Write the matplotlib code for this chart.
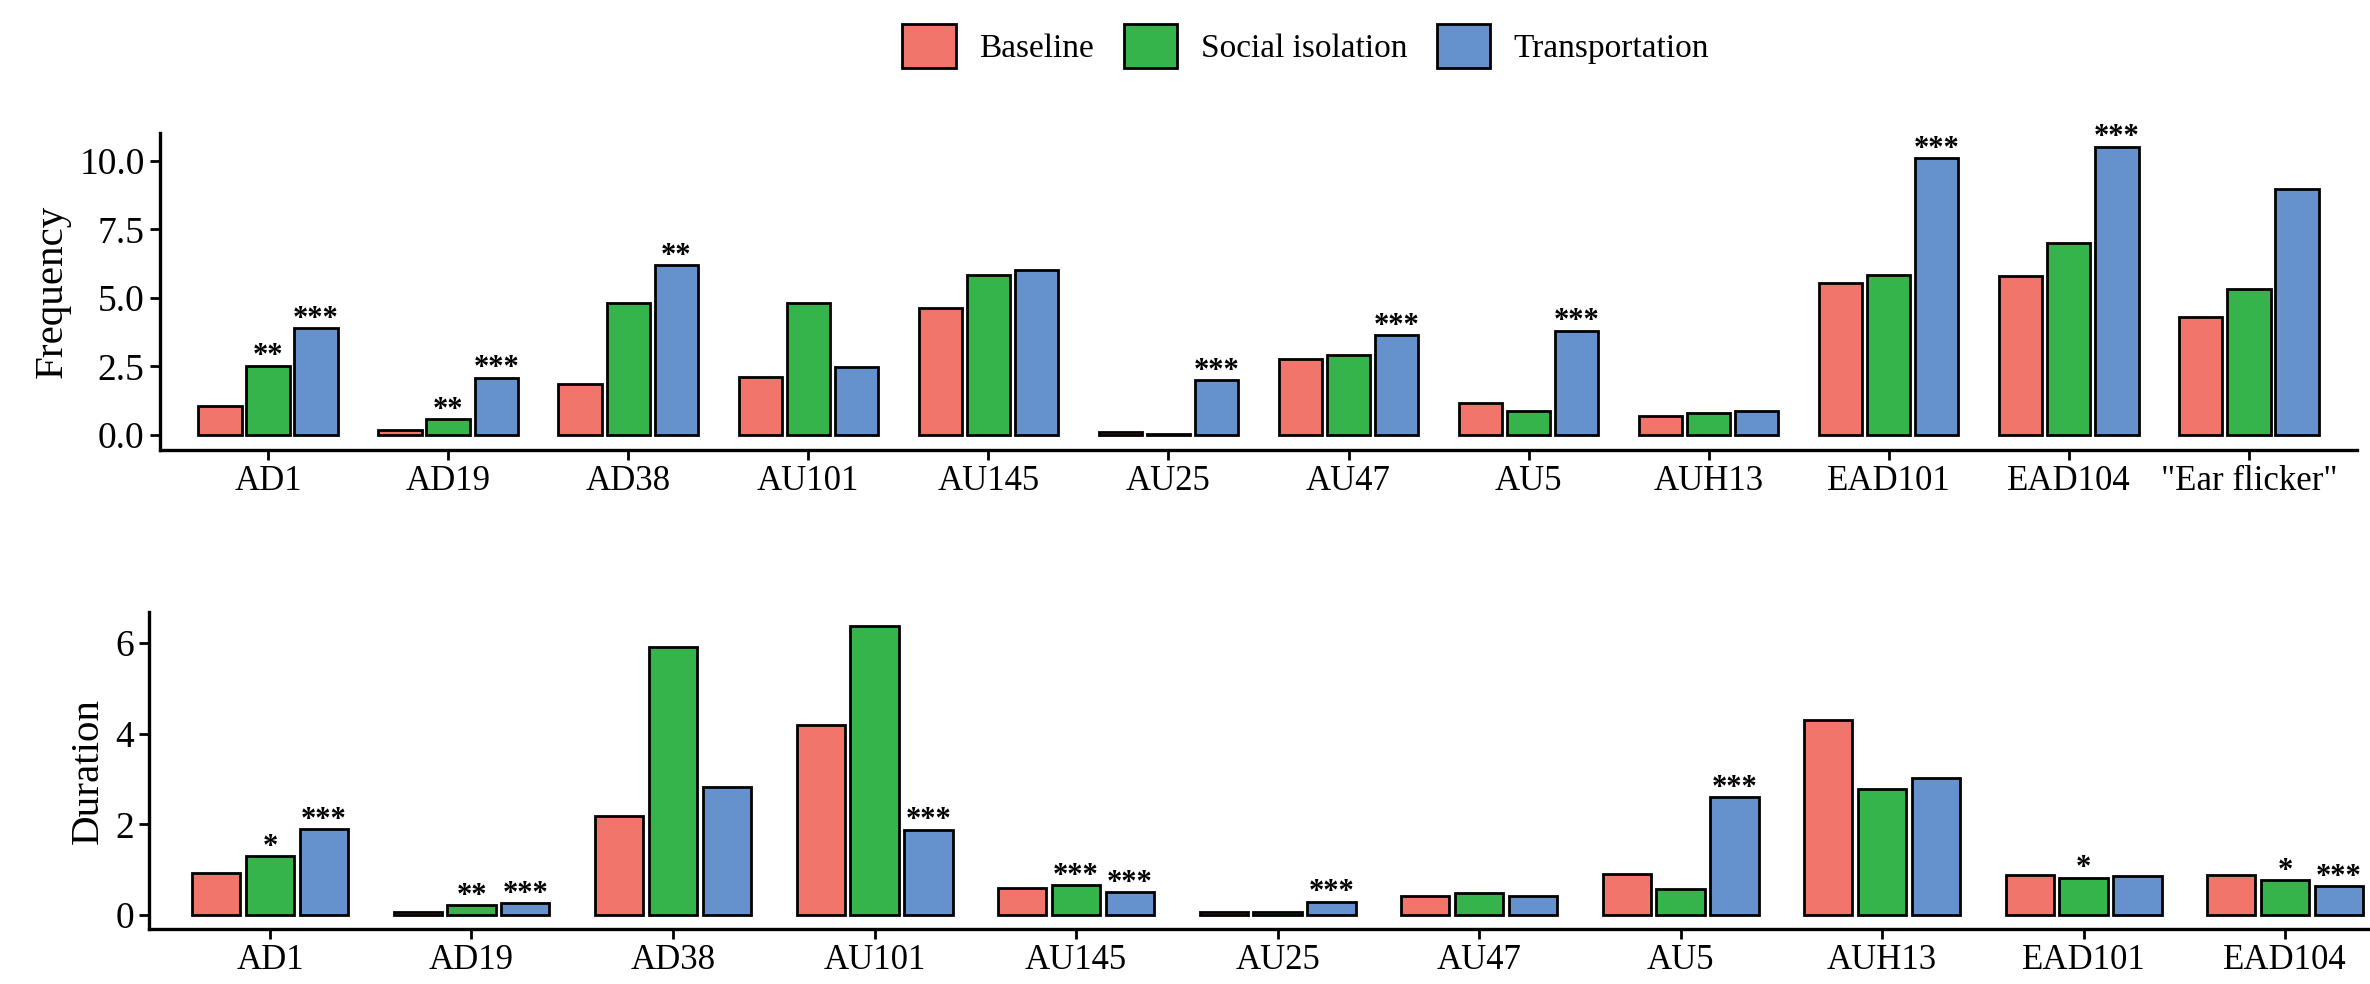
import numpy as np
import matplotlib
matplotlib.use("Agg")
import matplotlib.pyplot as plt
from matplotlib.patches import Patch

plt.rcParams['font.family'] = ['Liberation Serif', 'DejaVu Serif']

groups = ["Baseline", "Social isolation", "Transportation"]
colors = ["#F2756C", "#34B44A", "#6592CD"]

# frequency panel
freq_cats = ["AD1", "AD19", "AD38", "AU101", "AU145", "AU25", "AU47", "AU5",
             "AUH13", "EAD101", "EAD104", '"Ear flicker"']
freq_base = [1.06, 0.18, 1.86, 2.13, 4.62, 0.12, 2.77, 1.16, 0.69, 5.56, 5.80, 4.32]
freq_soc = [2.52, 0.58, 4.83, 4.80, 5.82, 0.04, 2.92, 0.89, 0.79, 5.84, 7.00, 5.32]
freq_trans = [3.89, 2.09, 6.20, 2.49, 6.02, 2.00, 3.65, 3.81, 0.89, 10.10, 10.52, 8.97]
freq_sig_soc = ["**", "**", "", "", "", "", "", "", "", "", "", ""]
freq_sig_trans = ["***", "***", "**", "", "", "***", "***", "***", "", "***", "***", ""]

# duration panel
dur_cats = ["AD1", "AD19", "AD38", "AU101", "AU145", "AU25", "AU47", "AU5",
            "AUH13", "EAD101", "EAD104"]
dur_base = [0.92, 0.07, 2.18, 4.18, 0.59, 0.07, 0.42, 0.90, 4.30, 0.88, 0.88]
dur_soc = [1.29, 0.22, 5.90, 6.38, 0.66, 0.06, 0.49, 0.57, 2.77, 0.82, 0.77]
dur_trans = [1.89, 0.26, 2.83, 1.88, 0.50, 0.29, 0.42, 2.60, 3.01, 0.85, 0.64]
dur_sig_soc = ["*", "**", "", "", "***", "", "", "", "", "*", "*"]
dur_sig_trans = ["***", "***", "", "***", "***", "***", "", "***", "", "", "***"]

slot = 0.267
bw = 0.24


def draw_panel(ax, cats, series, sig_soc, sig_trans, ylabel, ylim, yticks, yfmt):
    x = np.arange(len(cats))
    for j, vals in enumerate(series):
        ax.bar(x + (j - 1) * slot, vals, width=bw, color=colors[j],
               edgecolor="black", linewidth=2.0, zorder=3)
    # significance stars
    for i in range(len(cats)):
        if sig_soc[i]:
            ax.annotate(sig_soc[i], (x[i], series[1][i]), xytext=(0, 1),
                        textcoords="offset points", ha="center", va="baseline",
                        fontsize=22, fontweight="bold")
        if sig_trans[i]:
            ax.annotate(sig_trans[i], (x[i] + slot, series[2][i]), xytext=(0, 1),
                        textcoords="offset points", ha="center", va="baseline",
                        fontsize=22, fontweight="bold")
    ax.set_xlim(-0.6, len(cats) - 0.4)
    ax.set_ylim(*ylim)
    ax.set_xticks(x)
    ax.set_xticklabels(cats, fontsize=25)
    ax.set_yticks(yticks)
    ax.set_yticklabels([yfmt.format(v) for v in yticks], fontsize=27)
    ax.set_ylabel(ylabel, fontsize=29.5, labelpad=6)
    for s in ["top", "right"]:
        ax.spines[s].set_visible(False)
    for s in ["left", "bottom"]:
        ax.spines[s].set_linewidth(2.4)
    ax.tick_params(axis="both", direction="out", length=7, width=2.0, pad=4)


fig = plt.figure(figsize=(23.7, 9.84), dpi=100)

ax1 = fig.add_axes([0.0675, 0.5427, 0.927, 0.3221])
draw_panel(ax1, freq_cats, [freq_base, freq_soc, freq_trans], freq_sig_soc,
           freq_sig_trans, "Frequency", (-0.55, 11.02),
           [0, 2.5, 5, 7.5, 10], "{:.1f}")

ax2 = fig.add_axes([0.0629, 0.0559, 0.9523, 0.3221])
draw_panel(ax2, dur_cats, [dur_base, dur_soc, dur_trans], dur_sig_soc,
           dur_sig_trans, "Duration", (-0.31, 6.68), [0, 2, 4, 6], "{:.0f}")

handles = [Patch(facecolor=c, edgecolor="black", linewidth=2.0) for c in colors]
fig.legend(handles, groups, loc="center", bbox_to_anchor=(0.551, 0.953),
           ncol=3, frameon=False, fontsize=24, handlelength=1.6,
           handleheight=1.65, handletextpad=0.7, columnspacing=0.9)

fig.savefig("out.png", dpi=100)
